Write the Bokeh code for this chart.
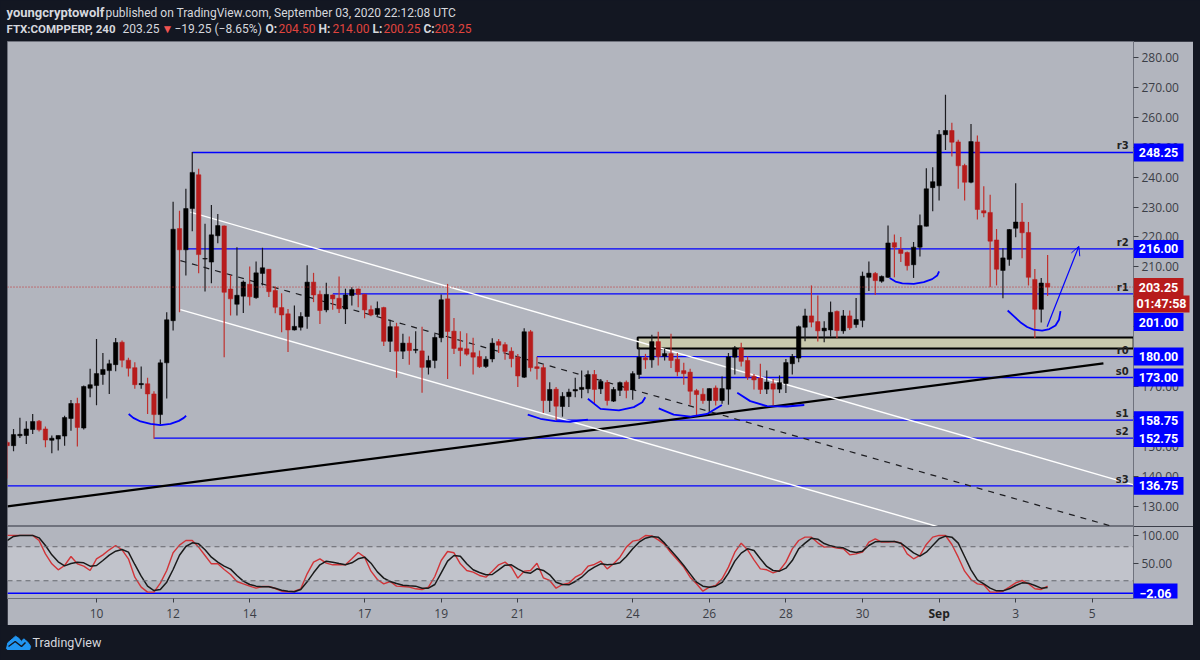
from bokeh.plotting import figure
from bokeh.layouts import column, row
from bokeh.models import Range1d, FixedTicker, NumeralTickFormatter, Arrow, OpenHead, BoxAnnotation, Span, ColumnDataSource
from bokeh.embed import file_html
from bokeh.resources import INLINE

opens = [151.3,150.2,153.5,153.6,155.6,158.4,155.8,152.0,152.4,153.4,159.3,164.3,156.1,169.4,170.3,174.0,175.3,177.3,184.8,178.8,176.3,170.6,170.9,167.5,160.6,177.9,192.0,222.8,215.7,229.5,240.8,212.6,211.6,220.4,223.7,202.6,197.5,200.2,204.2,199.7,207.8,209.2,202.1,196.4,194.3,188.9,189.8,193.4,204.9,200.8,195.6,200.6,199.5,195.9,200.4,202.6,200.8,195.7,194.1,196.4,185.1,190.0,181.8,184.5,182.1,181.9,176.4,178.7,186.3,199.3,188.5,182.9,182.6,181.3,180.0,176.7,179.2,185.0,184.0,181.8,179.8,173.1,188.3,176.6,176.3,165.3,169.1,163.3,166.6,168.5,169.0,169.2,174.0,169.2,171.3,165.1,168.7,171.4,168.9,174.0,179.6,178.9,185.0,180.1,181.0,179.1,175.3,174.8,168.6,167.4,165.3,169.5,165.3,169.1,179.8,182.8,178.7,173.4,172.8,169.1,170.9,169.1,171.0,177.6,179.5,189.8,193.6,191.7,188.6,188.9,195.1,188.6,193.6,190.7,192.1,206.5,207.8,205.2,206.5,218.1,215.8,214.8,210.7,216.6,223.6,236.5,237.1,254.2,255.6,251.8,243.9,238.3,251.8,228.8,228.2,219.0,208.8,212.5,222.9,225.0,221.5,205.8,195.8,204.5]
highs = [151.9,155.8,159.5,158.4,160.8,158.8,156.6,153.6,153.6,160.2,165.5,166.2,170.3,175.9,185.9,181.2,178.9,186.2,185.4,179.6,178.1,176.7,172.9,168.4,179.0,194.8,231.8,228.8,236.1,248.4,242.8,224.4,230.7,227.7,223.8,207.3,216.6,205.4,210.1,211.8,216.4,209.3,203.4,201.2,195.9,197.1,194.8,210.5,208.0,202.1,204.7,200.8,206.8,202.7,203.2,202.8,201.0,197.1,198.4,196.7,192.3,191.3,187.6,186.7,188.5,190.0,180.3,187.6,200.8,204.3,192.9,188.5,187.8,186.3,182.0,180.1,186.1,185.9,184.8,183.1,180.9,189.5,188.9,179.9,177.3,171.4,169.8,168.1,169.2,172.9,175.3,175.3,175.5,172.5,172.2,169.8,171.7,172.0,175.1,183.1,180.9,187.3,188.3,182.6,187.6,181.2,177.9,175.9,169.2,169.4,169.4,170.3,173.3,181.2,183.5,184.6,180.0,174.2,177.6,175.3,172.5,173.7,179.2,180.9,190.4,196.0,203.8,200.4,191.8,198.4,195.4,195.6,195.4,199.6,208.4,211.8,208.3,207.1,223.8,220.8,220.0,215.1,218.3,227.5,243.0,243.3,255.8,267.6,258.2,252.5,244.5,257.8,253.9,237.0,234.1,222.7,216.2,222.7,238.0,231.4,225.0,209.3,206.3,214.0]
lows = [139.2,148.3,152.8,150.8,154.1,154.9,149.7,147.7,148.6,150.2,155.2,149.9,155.6,166.4,163.7,170.6,167.5,175.1,176.4,173.3,169.2,169.2,160.8,152.5,157.3,166.0,188.7,194.8,207.1,221.9,207.9,201.8,204.5,217.9,179.8,193.7,193.7,194.6,197.1,199.3,203.8,199.9,194.5,188.1,181.5,188.7,188.7,189.3,198.2,190.9,194.8,195.7,194.6,190.9,197.1,196.5,192.8,193.5,193.4,183.5,181.5,172.9,179.2,177.3,181.1,167.9,174.0,176.1,184.8,172.5,180.9,176.8,180.3,174.0,176.2,176.2,178.1,181.2,178.9,176.4,169.8,172.8,175.0,172.3,161.1,161.5,158.6,159.9,163.1,166.4,166.1,167.7,164.4,167.5,163.6,164.8,166.8,166.1,165.6,172.5,175.9,176.3,177.0,178.7,176.2,173.4,170.6,163.9,160.3,164.2,161.4,163.6,164.2,163.9,174.0,176.7,172.2,169.0,167.5,167.5,163.6,167.8,167.8,174.0,178.1,185.1,189.8,185.0,184.8,186.7,186.1,187.6,188.9,189.6,189.8,201.9,200.6,204.7,206.3,206.5,211.6,208.8,206.3,213.5,223.5,228.6,232.2,249.1,246.9,236.1,232.2,238.0,225.8,226.6,203.2,203.8,199.5,210.4,219.9,212.9,203.8,186.2,191.4,200.25]
closes = [150.2,153.9,154.0,155.8,158.3,155.5,152.1,152.7,153.6,159.6,164.3,156.3,170.0,170.6,174.3,175.7,177.6,184.7,178.8,176.1,170.6,171.0,167.5,160.6,177.9,192.3,222.6,215.7,229.5,241.6,214.1,212.8,220.7,223.8,201.5,199.3,200.5,204.9,200.0,208.0,209.7,201.7,196.5,193.9,188.9,190.1,193.4,204.9,200.6,195.4,200.8,199.3,196.0,200.6,202.4,200.8,195.6,193.9,196.1,185.1,190.0,181.8,184.5,182.0,182.4,176.4,178.7,186.4,199.0,188.4,182.7,182.0,180.8,179.8,176.6,179.1,184.5,183.8,181.7,179.3,173.5,188.3,176.3,176.0,165.3,169.0,163.4,166.7,168.1,169.0,169.7,174.0,169.0,171.7,165.3,169.0,171.3,168.7,174.3,179.8,178.9,185.0,180.0,181.0,178.7,174.9,174.3,168.4,167.3,165.3,169.3,165.3,169.3,179.9,182.9,178.4,173.1,172.2,169.0,171.5,169.1,171.3,178.0,180.0,190.0,193.6,191.5,188.6,189.5,194.8,188.7,193.6,189.6,192.4,206.9,207.9,205.4,206.8,218.0,216.6,214.5,210.4,216.6,223.8,236.1,238.5,254.3,255.6,251.7,243.8,238.3,251.9,229.2,228.0,218.6,209.2,213.0,222.5,225.0,221.4,206.5,195.8,204.6,203.25]
stoch_k = [100,100,100,100,100,91.0,67.5,49.9,39.3,46.9,62.8,49.9,45.7,38.1,58.7,65.7,74.6,82.2,74.6,58.7,26.3,8.7,0,0,15.8,38.1,69.3,82.8,91.0,91.0,79.3,64.6,49.9,49.9,39.9,31.0,18.7,14.6,10.5,6.9,9.9,9.9,6.3,1.6,0.5,1.6,5.8,32.2,52.8,58.7,51.0,48.1,48.1,48.1,58.7,69.9,61.6,36.9,22.2,14.6,18.7,10.5,9.9,8.7,5.8,4.6,8.7,27.5,55.7,71.6,69.3,49.9,38.1,35.2,29.3,26.3,36.9,48.1,52.8,44.0,24.6,36.9,38.1,51.0,25.2,20.5,6.9,13.4,15.8,26.3,32.2,45.7,48.7,54.6,41.0,49.9,61.6,79.3,89.8,92.2,99.8,99.2,92.2,84.0,69.3,56.9,44.0,26.3,14.6,1.6,8.7,11.6,23.4,44.0,70.4,86.3,74.6,56.9,41.0,39.3,34.0,38.1,52.8,76.3,91.0,96.9,96.9,86.9,79.3,80.4,77.5,76.3,65.7,67.5,70.4,88.1,94.0,88.1,88.1,89.3,86.9,67.5,58.7,64.6,84.0,96.9,100,99.8,84.0,61.6,36.9,22.2,14.6,12.8,0,0,1.6,8.7,16.3,20.5,14.6,5.8,4.6,10.5]
stoch_d = [91.0,98.1,100,100,100,95.7,82.2,65.7,53.4,46.3,50.4,52.8,51.6,45.7,46.9,55.7,65.1,72.2,75.1,70.4,48.7,28.1,10.5,2.8,4.6,17.5,39.9,65.1,80.4,86.9,85.1,74.6,61.6,52.8,45.7,40.5,29.3,19.3,13.4,10.5,9.3,9.3,6.9,3.4,1.6,0.5,4.6,18.1,34.0,48.1,54.6,52.8,50.4,48.1,51.6,58.7,61.6,51.0,35.7,24.6,18.7,15.2,12.2,11.0,10.5,6.9,6.9,13.4,34.0,54.6,64.6,63.4,49.9,39.3,34.6,30.5,31.0,39.3,47.5,48.1,41.0,35.2,33.4,41.0,38.1,30.5,17.5,13.4,12.8,18.7,26.3,36.9,44.0,49.9,48.1,49.3,51.6,62.8,76.3,88.1,95.1,98.1,96.9,86.3,73.4,60.4,46.9,32.2,17.5,10.5,8.7,10.5,17.0,33.4,54.6,68.7,76.3,73.4,58.7,45.2,38.1,36.9,42.2,55.7,76.3,86.3,95.1,93.4,85.7,81.6,79.3,78.1,72.2,69.9,72.2,82.2,88.7,89.3,89.3,89.3,86.3,78.1,69.3,63.4,70.4,82.2,94.0,98.7,96.9,86.3,62.8,39.3,21.6,14.6,6.9,2.2,2.2,5.8,11.6,16.3,15.8,11.6,6.9,8.1]

first_bar_day = 7.6667
bars_per_day = 6
tick_days = [10, 12, 14, 17, 19, 21, 24, 26, 28, 30, 32, 34, 36]
tick_names = ["10", "12", "14", "17", "19", "21", "24", "26", "28", "30", "", "3", "5"]
price_ticks = [130, 140, 150, 160, 170, 180, 190, 200, 210, 220, 230, 240, 250, 260, 270, 280]

level_values = [248.25, 216.0, 201.0, 180.0, 173.0, 158.75, 152.75, 136.75]
level_starts = [12.5, 12.33, 16.17, 21.5, 24.17, 22.0, 11.5, 7.676]
pivot_names = ["r3", "r2", "r1", "r0", "s0", "s1", "s2", "s3"]

badge_text = ["203.25", "01:47:58", "248.25", "216.00", "201.00", "180.00", "173.00", "158.75", "152.75", "136.75"]
badge_at = [203.25, 197.6, 248.25, 216.0, 191.55, 180.0, 173.0, 158.75, 152.75, 136.75]
badge_fill = ["#b71c1c", "#b71c1c", "#0000ff", "#0000ff", "#0000ff", "#0000ff", "#0000ff", "#0000ff", "#0000ff", "#0000ff"]
badge_right = [50, 56, 50, 50, 50, 50, 50, 50, 50, 50]
badge_half = [3.0, 2.85, 3.0, 3.0, 3.0, 3.0, 3.0, 3.0, 3.0, 3.0]
last_price = 203.25

channel_top = ([12.45, 37.08], [228.3, 137.1])
channel_low = ([12.19, 32.0], [195.7, 123.0])
channel_mid = ([12.19, 36.53], [212.1, 123.17])
trend_x = [7.676, 36.29]
trend_y = [129.9, 177.7]
zone = (24.13, 37.08, 182.7, 186.4)
smiles = [
    ([10.84, 10.96, 11.15, 11.41, 11.67, 11.93, 12.15, 12.28, 12.34], [160.8, 159.5, 158.3, 157.5, 157.1, 157.5, 158.5, 159.5, 160.2]),
    ([21.26, 21.59, 21.98, 22.37, 22.83], [160.6, 159.2, 158.4, 158.2, 158.9]),
    ([22.83, 23.16, 23.64, 24.03, 24.25, 24.33], [165.9, 162.5, 162.0, 163.1, 164.7, 166.4]),
    ([24.68, 25.07, 25.51, 25.94, 26.33], [162.7, 160.6, 159.9, 160.8, 163.8]),
    ([26.73, 27.07, 27.51, 28.03, 28.48], [167.9, 165.1, 163.4, 163.3, 163.8]),
    ([30.71, 30.86, 31.04, 31.34, 31.60, 31.82, 31.95, 32.0], [206.3, 205.1, 204.5, 204.3, 204.9, 205.9, 207.1, 208.5]),
    ([33.79, 33.95, 34.12, 34.30, 34.47, 34.69, 34.88, 35.04, 35.13, 35.17], [195.4, 193.5, 191.5, 189.9, 189.0, 188.7, 189.2, 190.4, 192.3, 195.2]),
]
arrow_from = (34.82, 190.0)
arrow_to = (35.65, 216.9)
stoch_level = -2.06

header_text = ["youngcryptowolf", "published on TradingView.com, September 03, 2020 22:12:08 UTC",
               "FTX:COMPPERP, 240", "203.25", "▼", "−19.25 (−8.65%)", "O:", "204.50", "H:", "214.00", "L:", "200.25", "C:", "203.25"]
header_x = [6, 105, 6, 122, 161, 174, 265, 278, 318, 332, 372, 383, 423, 434]
header_y = [12, 12, 28, 28, 28, 28, 28, 28, 28, 28, 28, 28, 28, 28]
header_style = ["bold", "normal", "bold", "normal", "normal", "normal", "bold", "normal", "bold", "normal", "bold", "normal", "bold", "normal"]
header_size = ["13px", "12px", "11.5px", "12px", "12px", "12px", "12px", "12px", "12px", "12px", "12px", "12px", "12px", "12px"]
header_color = ["#d6d8de", "#d6d8de", "#d6d8de", "#d6d8de", "#ef5350", "#d6d8de", "#d6d8de", "#e0443e", "#d6d8de", "#e0443e", "#d6d8de", "#e0443e", "#d6d8de", "#e0443e"]

logo_x = [6, 7.3, 12, 15, 18.3, 20.7, 23.3, 27.3, 30, 29.3, 6.7]
logo_y = [648.3, 642.3, 638.3, 635.7, 637.7, 641, 638.3, 641.7, 645.7, 649, 649]
logo_line_x = [8, 14.7, 21, 25]
logo_line_y = [646, 641, 646, 642]

DARK = "#131722"
PANE = "#b2b5be"
BAND = "#c1c3cb"
GRID = "#6f727d"
BLUE = "#0000ff"
RED = "#b71c1c"
FONT = "Open Sans"
HEAD_FONT = "Roboto"
TICK = "#3b3e46"

days = [first_bar_day + i / bars_per_day for i in range(len(opens))]
colors = [("#000000" if c >= o else RED) for o, c in zip(opens, closes)]
wick_colors = [("#1c1c20" if c >= o else "#c0312e") for o, c in zip(opens, closes)]
XR = Range1d(7.676, 37.076)

# header
head = figure(width=1200, height=41, x_range=Range1d(0, 1200), y_range=Range1d(41, 0),
              toolbar_location=None, output_backend="svg", min_border=0,
              background_fill_color=DARK, border_fill_color=DARK, outline_line_color=None)
head.axis.visible = False
head.grid.visible = False
head.text(x="x", y="y", text="t", text_color="c", text_font_style="st", text_font_size="sz",
          text_font={"value": HEAD_FONT}, text_baseline="middle", text_align="left",
          source=ColumnDataSource(dict(x=header_x, y=header_y, t=header_text, c=header_color,
                                       st=header_style, sz=header_size)))

# price pane
p = figure(frame_width=1126, frame_height=485, x_range=XR, y_range=Range1d(123.17, 285.37),
           y_axis_location="right", toolbar_location=None, output_backend="svg",
           min_border_left=0, min_border_right=60, min_border_top=0, min_border_bottom=0,
           background_fill_color=PANE, border_fill_color=PANE, outline_line_color=GRID, margin=(0, 0, 0, 7))
p.grid.visible = False
p.xaxis.visible = False
p.yaxis.ticker = FixedTicker(ticks=price_ticks)
p.yaxis.formatter = NumeralTickFormatter(format="0.00")
p.yaxis.axis_line_color = GRID
p.yaxis.major_tick_line_color = TICK
p.yaxis.major_tick_out = 5
p.yaxis.major_tick_in = 0
p.yaxis.minor_tick_line_color = None
p.yaxis.major_label_text_color = TICK
p.yaxis.major_label_text_font = FONT
p.yaxis.major_label_text_font_size = "12px"
p.yaxis.major_label_standoff = 3

p.quad(left=[zone[0]], right=[zone[1]], bottom=[zone[2]], top=[zone[3]],
       fill_color="#c9c9ae", line_color="#000000", line_width=2)
p.segment(x0=level_starts, x1=[37.08] * len(level_starts), y0=level_values, y1=level_values,
          line_color=BLUE, line_width=1.3)
p.line(trend_x, trend_y, line_color="#000000", line_width=2.2)
p.line(channel_top[0], channel_top[1], line_color="#ffffff", line_width=1.4)
p.line(channel_low[0], channel_low[1], line_color="#ffffff", line_width=1.4)
p.line(channel_mid[0], channel_mid[1], line_color="#1c1c20", line_width=1.2, line_dash="6 6")
p.segment(x0=days, x1=days, y0=lows, y1=highs, line_color=wick_colors, line_width=1.2)
p.vbar(x=days, width=0.115, bottom=[min(o, c) for o, c in zip(opens, closes)],
       top=[max(o, c) for o, c in zip(opens, closes)], fill_color=colors, line_color=colors, line_width=0.5)
p.segment(x0=[7.676], x1=[37.08], y0=[last_price], y1=[last_price], line_color="#c62828",
          line_width=1, line_dash="1 2")
for sx, sy in smiles:
    p.line(sx, sy, line_color=BLUE, line_width=1.8, line_join="round")
p.add_layout(Arrow(end=OpenHead(size=9, line_color=BLUE, line_width=1),
                   x_start=arrow_from[0], y_start=arrow_from[1], x_end=arrow_to[0], y_end=arrow_to[1],
                   line_color=BLUE, line_width=1.2))
p.text(x=[36.95] * len(pivot_names), y=level_values, text=pivot_names, text_align="right",
       text_baseline="bottom", y_offset=-1, text_font={"value": "DejaVu Sans"}, text_font_style="bold",
       text_font_size="10px", text_color="#222222")

# price badges: a transparent strip over the price scale, sharing its y range
price_strip = figure(width=60, height=485, x_range=Range1d(0, 60), y_range=p.y_range,
                     toolbar_location=None, output_backend="svg", min_border=0,
                     background_fill_color=None, border_fill_color=None, outline_line_color=None,
                     margin=(0, 0, 0, -60))
price_strip.axis.visible = False
price_strip.grid.visible = False
price_strip.quad(left=[0] * len(badge_at), right=badge_right,
                 bottom=[a - h for a, h in zip(badge_at, badge_half)],
                 top=[a + h for a, h in zip(badge_at, badge_half)],
                 fill_color=badge_fill, line_color=None)
price_strip.text(x=[r / 2 for r in badge_right], y=badge_at, text=badge_text, text_align="center",
                 text_baseline="middle", text_color="#ffffff", text_font={"value": HEAD_FONT},
                 text_font_style="bold", text_font_size="12.5px")

# stochastic pane
s = figure(frame_width=1126, frame_height=72, x_range=XR, y_range=Range1d(-11.3, 115.7),
           y_axis_location="right", toolbar_location=None, output_backend="svg",
           min_border_left=0, min_border_right=60, min_border_top=0, min_border_bottom=27,
           background_fill_color=PANE, border_fill_color=PANE, outline_line_color=GRID, margin=(0, 0, 0, 7))
s.grid.visible = False
s.add_layout(BoxAnnotation(bottom=20, top=80, fill_color=BAND, fill_alpha=1, line_color=None, level="underlay"))
for lvl in (80, 20):
    s.add_layout(Span(location=lvl, dimension="width", line_color="#66686f", line_width=1, line_dash="5 4"))
s.segment(x0=[7.676], x1=[37.08], y0=[stoch_level], y1=[stoch_level], line_color=BLUE, line_width=1.5)
s.line(days, stoch_k, line_color="#d13438", line_width=1.4)
s.line(days, stoch_d, line_color="#1a1a1a", line_width=1.5)
s.yaxis.ticker = FixedTicker(ticks=[50, 100])
s.yaxis.formatter = NumeralTickFormatter(format="0.00")
s.yaxis.axis_line_color = GRID
s.yaxis.major_tick_line_color = TICK
s.yaxis.major_tick_out = 5
s.yaxis.major_tick_in = 0
s.yaxis.minor_tick_line_color = None
s.yaxis.major_label_text_color = TICK
s.yaxis.major_label_text_font = FONT
s.yaxis.major_label_text_font_size = "12px"
s.yaxis.major_label_standoff = 3
s.xaxis.ticker = FixedTicker(ticks=tick_days)
s.xaxis.major_label_overrides = {d: n for d, n in zip(tick_days, tick_names)}
s.xaxis.axis_line_color = GRID
s.xaxis.major_tick_line_color = TICK
s.xaxis.major_tick_out = 4
s.xaxis.major_tick_in = 0
s.xaxis.minor_tick_line_color = None
s.xaxis.major_label_text_color = TICK
s.xaxis.major_label_text_font = FONT
s.xaxis.major_label_text_font_size = "12px"
s.xaxis.major_label_standoff = 6

# overlay on the whole stochastic pane, for the -2.06 badge and the bold month label
s_over = figure(frame_width=1186, frame_height=99, x_range=Range1d(7.676, 38.643), y_range=Range1d(-58.9, 115.7),
                toolbar_location=None, output_backend="svg", min_border=0,
                background_fill_color=None, border_fill_color=None, outline_line_color=None,
                margin=(0, 0, 0, -1186), align="start")
s_over.axis.visible = False
s_over.grid.visible = False
s_over.quad(left=[37.076], right=[38.225], bottom=[-11.3], top=[15.2], fill_color=BLUE, line_color=None)
s_over.text(x=[37.65], y=[stoch_level], text=["−2.06"], text_align="center", text_baseline="middle",
            text_color="#ffffff", text_font={"value": HEAD_FONT}, text_font_style="bold", text_font_size="12.5px")
s_over.text(x=[32], y=[-37.8], text=["Sep"], text_align="center", text_baseline="middle",
            text_color="#222222", text_font={"value": FONT}, text_font_style="bold", text_font_size="12px")

# footer
foot = figure(width=1200, height=35, x_range=Range1d(0, 1200), y_range=Range1d(660, 625),
              toolbar_location=None, output_backend="svg", min_border=0,
              background_fill_color=DARK, border_fill_color=DARK, outline_line_color=None)
foot.axis.visible = False
foot.grid.visible = False
foot.patch(logo_x, logo_y, fill_color="#2196f3", line_color="#2196f3")
foot.line(logo_line_x, logo_line_y, line_color=DARK, line_width=1.5)
foot.text(x=[32], y=[642], text=["TradingView"], text_color="#d6d8de", text_font={"value": HEAD_FONT},
          text_font_size="12.5px", text_baseline="middle")

root = column(head, row(p, price_strip, spacing=0), row(s, s_over, spacing=0), foot, spacing=0,
              styles={"position": "absolute", "left": "0", "top": "0", "background-color": DARK})
open("out.html", "w").write(file_html(root, INLINE))
